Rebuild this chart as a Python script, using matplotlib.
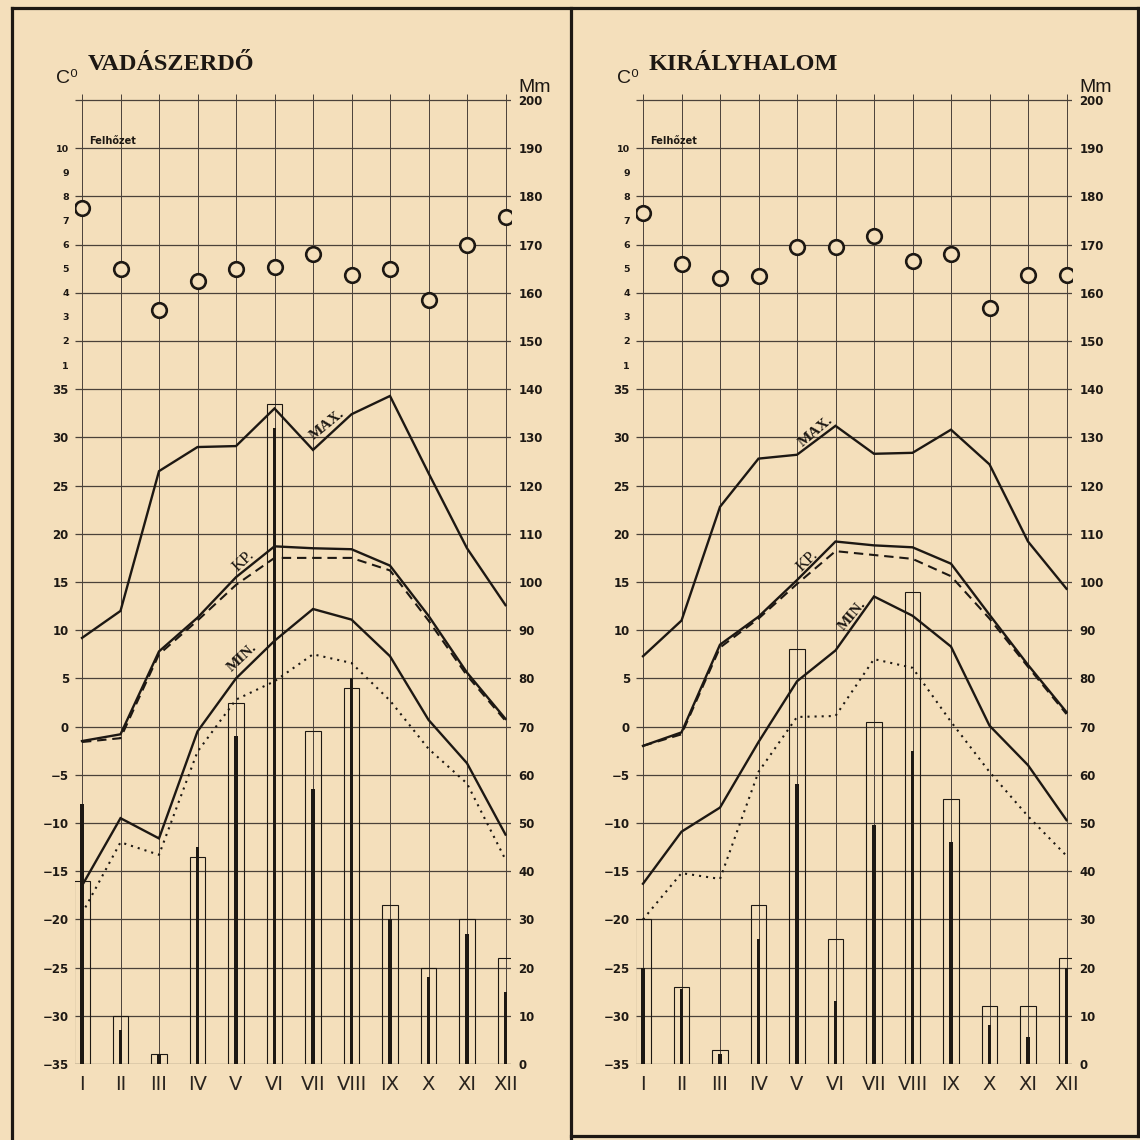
import matplotlib
matplotlib.use('Agg')
import matplotlib.pyplot as plt
from matplotlib import font_manager as fm
from matplotlib.lines import Line2D

months = ['I', 'II', 'III', 'IV', 'V', 'VI', 'VII', 'VIII', 'IX', 'X', 'XI', 'XII']
xpos = list(range(1, 13))

# ---- Vadászerdő ----
v_title = 'VADÁSZERDŐ'
v_cloud = [7.5, 5.0, 3.3, 4.5, 5.0, 5.05, 5.6, 4.75, 5.0, 3.7, 6.0, 7.15]
v_max = [9.2, 12.0, 26.5, 29.0, 29.1, 33.0, 28.7, 32.4, 34.3, 26.3, 18.5, 12.6]
v_kp = [-1.5, -0.8, 7.8, 11.3, 15.5, 18.7, 18.5, 18.4, 16.7, 11.5, 5.6, 0.8]
v_kp_avg = [-1.6, -1.2, 7.5, 11.0, 14.7, 17.5, 17.5, 17.5, 16.2, 11.0, 5.3, 0.6]
v_min = [-16.5, -9.5, -11.6, -0.5, 5.0, 8.9, 12.2, 11.1, 7.3, 0.7, -3.8, -11.2]
v_min_avg = [-19.4, -12.0, -13.3, -2.6, 2.8, 4.7, 7.5, 6.6, 2.7, -2.3, -5.9, -13.8]
v_rain_open = [38, 10, 2, 43, 75, 137, 69, 78, 33, 20, 30, 22]
v_rain_black = [54, 7, 2, 45, 68, 132, 57, 80, 30, 18, 27, 15]

# ---- Királyhalom ----
k_title = 'KIRÁLYHALOM'
k_cloud = [7.3, 5.2, 4.6, 4.7, 5.9, 5.9, 6.35, 5.3, 5.6, 3.35, 4.75, 4.75]
k_max = [7.3, 11.0, 22.8, 27.8, 28.2, 31.2, 28.3, 28.4, 30.8, 27.2, 19.2, 14.3]
k_kp = [-2.0, -0.6, 8.5, 11.4, 15.2, 19.2, 18.8, 18.6, 16.9, 11.6, 6.4, 1.5]
k_kp_avg = [-2.0, -0.8, 8.2, 11.2, 14.8, 18.2, 17.8, 17.4, 15.6, 11.2, 6.2, 1.3]
k_min = [-16.3, -10.9, -8.4, -1.6, 4.7, 7.9, 13.5, 11.5, 8.3, 0.1, -4.0, -9.7]
k_min_avg = [-20.0, -15.2, -15.8, -4.7, 1.0, 1.1, 7.0, 6.1, 0.5, -4.7, -9.3, -13.4]
k_rain_open = [30, 16, 3, 33, 86, 26, 71, 98, 55, 12, 12, 22]
k_rain_black = [20, 15.5, 2, 26, 58, 13, 49.6, 65, 46, 8, 5.5, 20]

temp_ticks = list(range(-35, 36, 5))
cloud_ticks = list(range(1, 11))
mm_ticks = list(range(0, 201, 10))

# label placement (text, month position, temperature, rotation, bold)
v_labels = [('MAX.', 7.36, 31.3, 39, True), ('KP.', 5.2, 17.2, 43, False), ('MIN.', 5.17, 7.2, 43, True)]
k_labels = [('MAX.', 5.5, 30.6, 40, True), ('KP.', 5.26, 17.2, 44, False), ('MIN.', 6.44, 11.5, 50, True)]

available = {f.name for f in fm.fontManager.ttflist}
narrow = 'Liberation Sans Narrow' if 'Liberation Sans Narrow' in available else 'DejaVu Sans'
serif = 'Liberation Serif' if 'Liberation Serif' in available else 'DejaVu Serif'
sans = 'Liberation Sans' if 'Liberation Sans' in available else 'DejaVu Sans'

BG = '#f4dfbb'
INK = '#1d1813'
GRID = '#4a4139'

W = H = 1140
PX_MM = 4.82
UNIT = 38.5
X0, X1 = 0.82, 12.15
MM_TOP = 201.2
Y_BOTTOM = 1064

fig = plt.figure(figsize=(W / 100, H / 100), dpi=100, facecolor=BG)

num_size = 9.5 if narrow != 'DejaVu Sans' else 8.5
month_size = 17 if narrow != 'DejaVu Sans' else 14


def panel(first_month_px, title, cloud, tmax, kp, kpd, tmin, tmind, r_open, r_black, labels):
    left_px = first_month_px - (1 - X0) * UNIT
    width_px = (X1 - X0) * UNIT
    height_px = MM_TOP * PX_MM
    ax = fig.add_axes([left_px / W, (H - Y_BOTTOM) / H, width_px / W, height_px / H])
    ax_t = ax.twinx()
    ax_c = ax.twinx()
    for a in (ax, ax_t, ax_c):
        a.set_xlim(X0, X1)
        a.patch.set_visible(False)
        for s in a.spines.values():
            s.set_visible(False)
    ax.set_ylim(0, MM_TOP)
    ax_t.set_ylim(-35, -35 + MM_TOP / 2)
    ax_c.set_ylim(-28, -28 + MM_TOP / 5)

    # grid
    ax.hlines(mm_ticks, X0, X1, color=GRID, lw=0.9, zorder=1)
    ax.vlines(xpos, 0, MM_TOP, color=GRID, lw=0.7, zorder=1)

    # precipitation
    ax.bar(xpos, r_open, width=0.41, fill=False, edgecolor=INK, lw=0.8, zorder=2)
    ax.bar(xpos, r_black, width=0.1, color=INK, lw=0, zorder=3)

    # temperatures
    ax_t.plot(xpos, tmax, color=INK, lw=1.7, solid_joinstyle='miter')
    ax_t.plot(xpos, kp, color=INK, lw=1.7, solid_joinstyle='miter')
    ax_t.plot(xpos, kpd, color=INK, lw=1.5, ls=(0, (4.5, 2.8)))
    ax_t.plot(xpos, tmin, color=INK, lw=1.7, solid_joinstyle='miter')
    ax_t.plot(xpos, tmind, color=INK, lw=1.5, ls=(0, (1, 2.4)))
    for txt, lx, ly, rot, bold in labels:
        ax_t.text(lx, ly, txt, rotation=rot, ha='center', va='center',
                  rotation_mode='anchor', family=serif,
                  fontweight='bold' if bold else 'normal',
                  fontsize=11 if bold else 12, color=INK)

    # cloudiness
    ax_c.plot(xpos, cloud, ls='none', marker='o', ms=10.5, mfc=BG, mec=INK, mew=1.9, zorder=5)

    # ticks
    ax.yaxis.tick_right()
    ax.set_yticks(mm_ticks)
    ax.set_yticklabels([str(v) for v in mm_ticks])
    ax.tick_params(axis='y', length=0, pad=5, labelsize=num_size, labelcolor=INK)
    for lab in ax.get_yticklabels():
        lab.set_fontfamily(narrow)
        lab.set_fontweight('bold')

    ax_t.yaxis.tick_left()
    ax_t.set_yticks(temp_ticks)
    ax_t.set_yticklabels([('\u2212' + str(-v)) if v < 0 else str(v) for v in temp_ticks])
    ax_t.tick_params(axis='y', length=0, pad=4.5, labelsize=num_size, labelcolor=INK)
    for lab in ax_t.get_yticklabels():
        lab.set_fontfamily(narrow)
        lab.set_fontweight('bold')

    ax_c.yaxis.tick_left()
    ax_c.set_yticks(cloud_ticks)
    ax_c.set_yticklabels([str(v) for v in cloud_ticks])
    ax_c.tick_params(axis='y', length=0, pad=4.5, labelsize=6.8, labelcolor=INK)
    for lab in ax_c.get_yticklabels():
        lab.set_fontfamily(narrow)
        lab.set_fontweight('bold')

    ax.set_xticks(xpos)
    ax.set_xticklabels(months)
    ax.tick_params(axis='x', length=0, pad=8, labelsize=month_size, labelcolor='#2a241e')
    for lab in ax.get_xticklabels():
        lab.set_fontfamily(narrow)

    # texts
    ax.text(1.15, 206.2, title, family=serif, fontweight='bold', fontsize=17.5,
            color=INK, ha='left', va='baseline', clip_on=False)
    ax.text(0.88, 203.6, 'C\u2070', family=[sans, 'DejaVu Sans'], fontsize=14, color=INK,
            ha='right', va='baseline', clip_on=False)
    ax.text(12.33, 201.6, 'Mm', family=sans, fontsize=14, color=INK,
            ha='left', va='baseline', clip_on=False)
    ax.text(1.18, 190.5, 'Felhőzet', family=narrow, fontweight='bold', fontsize=7,
            color=INK, ha='left', va='bottom')
    return ax


panel(82, v_title, v_cloud, v_max, v_kp, v_kp_avg, v_min, v_min_avg,
      v_rain_open, v_rain_black, v_labels)
panel(643, k_title, k_cloud, k_max, k_kp, k_kp_avg, k_min, k_min_avg,
      k_rain_open, k_rain_black, k_labels)


# page frame
def frame(x_px, y_px):
    fig.add_artist(Line2D([v / W for v in x_px], [1 - v / H for v in y_px],
                          color=INK, lw=2.3, transform=fig.transFigure))


frame([12, 1140], [8, 8])
frame([12, 12], [8, 1140])
frame([571, 571], [8, 1140])
frame([571, 1138], [1136, 1136])
frame([1138, 1138], [8, 1136])

fig.savefig('out.png', dpi=100, facecolor=BG)
